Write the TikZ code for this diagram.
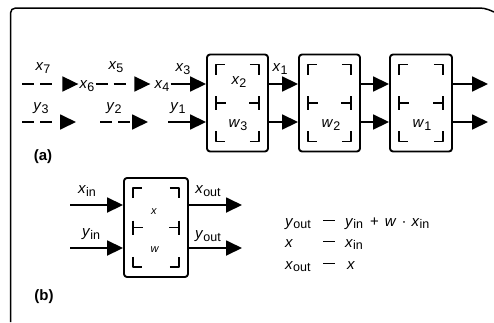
\documentclass[tikz,border=0pt]{standalone}
\usepackage{fontspec}
\setmainfont{Liberation Sans}
\usetikzlibrary{arrows.meta,calc}
\newcommand\lab[2]{\textit{#1}\raisebox{-0.35ex}{\fontsize{12.5}{14}\selectfont #2}}
\newcommand\eqdash{\rule[0.32em]{12pt}{1.3pt}}
\newcommand\regmarks[1]{%
  \path (#1.north west) ++(10,11) coordinate (#1-a)
        (#1.south east) ++(-10,-11) coordinate (#1-b);
  \coordinate (#1-ml) at ($(#1-a)!0.5!(#1-a |- #1-b)$);
  \coordinate (#1-mr) at ($(#1-b |- #1-a)!0.5!(#1-b)$);
  \draw[reg] (#1-a) ++(0,10) -- ++(0,-10) -- ++(9,0);
  \draw[reg] (#1-b |- #1-a) ++(-9,0) -- ++(9,0) -- ++(0,10);
  \draw[reg] (#1-a |- #1-b) ++(0,-10) -- ++(0,10) -- ++(9,0);
  \draw[reg] (#1-b) ++(-9,0) -- ++(9,0) -- ++(0,-10);
  \draw[reg] (#1-ml) ++(0,-7) -- ++(0,14);
  \draw[reg] (#1-ml) -- ++(10,0);
  \draw[reg] (#1-mr) ++(0,-7) -- ++(0,14);
  \draw[reg] (#1-mr) -- ++(-10,0);
}
\begin{document}
\begin{tikzpicture}[x=1pt,y=-1pt,line join=round,
  lbl/.style={inner sep=1pt, font=\fontsize{15}{17}\selectfont},
  small/.style={inner sep=1pt, font=\fontsize{11}{13}\selectfont},
  eq/.style={inner sep=0pt, font=\fontsize{15}{17}\selectfont},
  tag/.style={inner sep=1pt, font=\fontsize{15}{17}\selectfont\bfseries},
  conn/.style={line width=1.8pt, -{Triangle[length=16pt,width=15pt]}},
  dconn/.style={conn, dash pattern=on 12pt off 6pt on 12pt off 40pt},
  box/.style={draw, line width=1.9pt, rounded corners=3pt, minimum width=61pt, minimum height=97pt, inner sep=0pt},
  reg/.style={line width=1.6pt}]
\useasboundingbox (0,0) rectangle (494,322);
% frame
\draw[line width=1.5pt, rounded corners=5pt] (10.5,322) -- (10.5,8) -- (470,8);
\draw[line width=1.5pt] (470,8) .. controls (485,8) .. (494,12);

% boxes of (a)
\node[box] (b1) at (237.5,103) {};
\node[box] (b2) at (329.5,103) {};
\node[box, minimum width=62pt] (b3) at (421,103) {};
\regmarks{b1}
\regmarks{b2}
\regmarks{b3}

\coordinate (ra) at (0,84);
\coordinate (rb) at (0,122);

% top row
\coordinate (s1) at (22,84);
\node[lbl] (x6) at (87,86) {\lab{x}{6}};
\node[lbl] (x4) at (162,86) {\lab{x}{4}};
\draw[dconn] (s1) -- (s1 -| x6.west);
\draw[dconn] (x6.east |- ra) -- ([xshift=-3pt]x4.west |- ra);
\draw[conn] (x4.east |- ra) -- (b1.west |- ra);

% bottom row
\coordinate (t1) at (22,122);
\coordinate (u1) at (76,122);
\coordinate (t2) at (100,122);
\coordinate (u2) at (148,122);
\coordinate (t3) at (168,122);
\draw[dconn] (t1) -- (u1);
\draw[dconn] (t2) -- (u2);
\draw[conn] (t3) -- (b1.west |- rb);

% between boxes
\coordinate (o1) at (488,84);
\coordinate (o2) at (488,122);
\draw[conn] (b1.east |- ra) -- (b2.west |- ra);
\draw[conn] (b1.east |- rb) -- (b2.west |- rb);
\draw[conn] (b2.east |- ra) -- (b3.west |- ra);
\draw[conn] (b2.east |- rb) -- (b3.west |- rb);
\draw[conn] (b3.east |- ra) -- (o1);
\draw[conn] (b3.east |- rb) -- (o2);

% labels (a)
\node[lbl] (lx7) at (43,68) {\lab{x}{7}};
\node[lbl] (lx5) at (116,67) {\lab{x}{5}};
\node[lbl] (lx3) at (183,69) {\lab{x}{3}};
\node[lbl] (ly3) at (41,108) {\lab{y}{3}};
\node[lbl] (ly2) at (114,108) {\lab{y}{2}};
\node[lbl] (ly1) at (178,108) {\lab{y}{1}};
\node[lbl] (lx1) at (280,69) {\lab{x}{1}};
\node[lbl] (lx2) at (239,82) {\lab{x}{2}};
\node[lbl] (lw3) at (238,125) {\lab{w}{3}};
\node[lbl] (lw2) at (331,125) {\lab{w}{2}};
\node[lbl] (lw1) at (422,125) {\lab{w}{1}};
\node[tag] (ta) at (43,157) {(a)};

% part (b)
\node[box, minimum width=64pt, minimum height=99pt] (bb) at (156,227.5) {};
\regmarks{bb}
\coordinate (i1) at (70,205);
\coordinate (i2) at (70,248);
\coordinate (o3) at (242,205);
\coordinate (o4) at (242,248);
\draw[conn] (i1) -- (bb.west |- i1);
\draw[conn] (i2) -- (bb.west |- i2);
\draw[conn] (bb.east |- i1) -- (o3);
\draw[conn] (bb.east |- i2) -- (o4);
\node[lbl] (lxin) at (87,191) {\lab{x}{in}};
\node[lbl] (lyin) at (91,234) {\lab{y}{in}};
\node[lbl] (lxout) at (208,191) {\lab{x}{out}};
\node[lbl] (lyout) at (208,236) {\lab{y}{out}};
\node[small] (lx) at (154,212) {\textit{x}};
\node[small] (lw) at (155,250) {\textit{w}};
\node[tag] (tb) at (44,297) {(b)};

% equations
\node[eq, anchor=base west] (e1l) at (285,226) {\lab{y}{out}};
\node[eq, anchor=base west] (e1a) at (323,226) {\eqdash};
\node[eq, anchor=base west] (e1r) at (345,226) {\lab{y}{in}\hspace{7pt}+\hspace{6pt}\textit{w}\hspace{5pt}·\hspace{5pt}\lab{x}{in}};
\node[eq, anchor=base west] (e2l) at (285,247) {\textit{x}};
\node[eq, anchor=base west] (e2a) at (323,247) {\eqdash};
\node[eq, anchor=base west] (e2r) at (345,247) {\lab{x}{in}};
\node[eq, anchor=base west] (e3l) at (285,269) {\lab{x}{out}};
\node[eq, anchor=base west] (e3a) at (323,269) {\eqdash};
\node[eq, anchor=base west] (e3r) at (347,269) {\textit{x}};
\end{tikzpicture}
\end{document}
